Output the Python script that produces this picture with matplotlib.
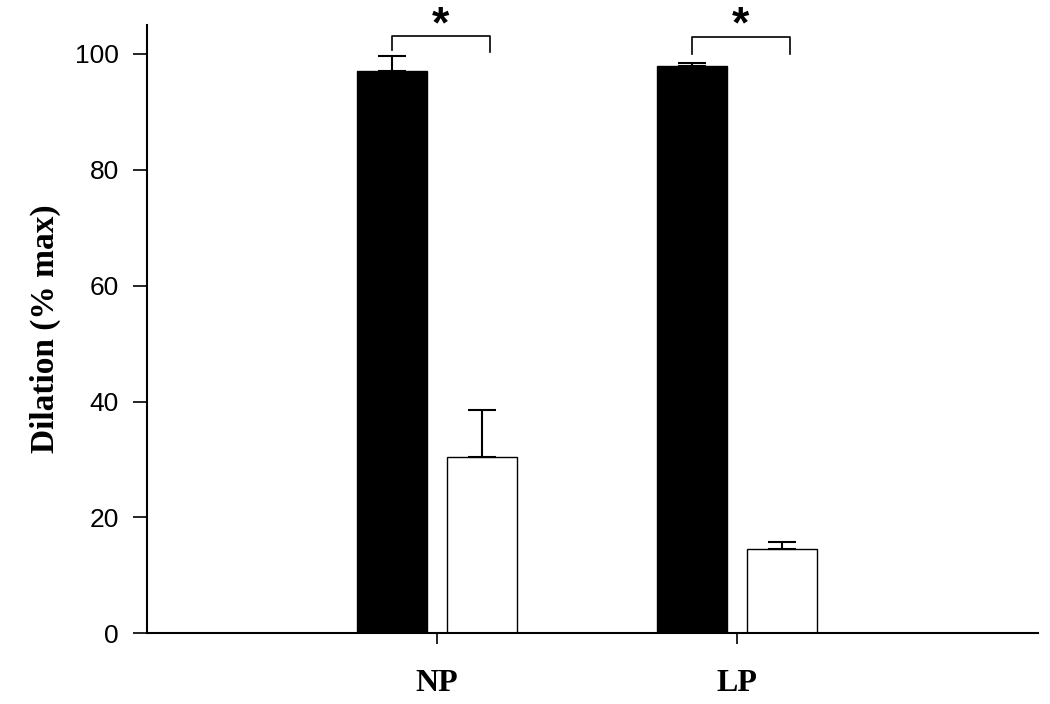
import matplotlib
matplotlib.use("Agg")
import matplotlib.pyplot as plt
import numpy as np

categories = ["NP", "LP"]
black_values = [97.1, 97.9]
black_err = [2.6, 0.6]
white_values = [30.4, 14.5]
white_err = [8.1, 1.3]

fig = plt.figure(figsize=(10.5, 7.04), dpi=100)
ax = fig.add_axes([0.1397, 0.1004, 0.8489, 0.8641])

x = np.arange(1, len(categories) + 1)
w = 0.233
off = 0.15

ax.bar(x - off, black_values, w, color="black", edgecolor="black", linewidth=1)
ax.bar(x + off, white_values, w, color="white", edgecolor="black", linewidth=1)

ax.errorbar(x - off, black_values, yerr=[np.zeros(2), black_err], fmt="none",
            ecolor="black", elinewidth=1.5, capsize=10, capthick=1.5)
ax.errorbar(x + off, white_values, yerr=[np.zeros(2), white_err], fmt="none",
            ecolor="black", elinewidth=1.5, capsize=10, capthick=1.5)

# significance brackets
br_top = [103.1, 102.9]
br_left = [100.6, 100.0]
br_right = [100.4, 100.0]
for i in range(len(categories)):
    xl = x[i] - off
    xr = x[i] + off + 0.027
    ax.plot([xl, xl, xr, xr], [br_left[i], br_top[i], br_top[i], br_right[i]],
            color="black", lw=1.2, clip_on=False)
    ax.text(x[i] + 0.01, 102.9, "*", ha="center", va="baseline",
            fontsize=32, fontweight="bold", family="Liberation Sans", clip_on=False)

ax.set_xlim(0.032, 3.003)
ax.set_ylim(0, 105)
ax.set_yticks([0, 20, 40, 60, 80, 100])
ax.set_xticks(x)
ax.set_xticklabels(categories, family="Liberation Serif", fontweight="bold", fontsize=23)
for lab in ax.get_yticklabels():
    lab.set_family("Liberation Sans")
    lab.set_fontsize(19)

ax.tick_params(axis="y", direction="out", length=10, width=1.2, pad=10)
ax.tick_params(axis="x", direction="out", length=8, width=1.2, pad=18)

ax.spines["top"].set_visible(False)
ax.spines["right"].set_visible(False)
ax.spines["left"].set_linewidth(1.5)
ax.spines["bottom"].set_linewidth(1.5)

ax.set_ylabel("Dilation (% max)", family="Liberation Serif", fontweight="bold",
              fontsize=24, labelpad=10)

fig.savefig("out.png", dpi=100)
